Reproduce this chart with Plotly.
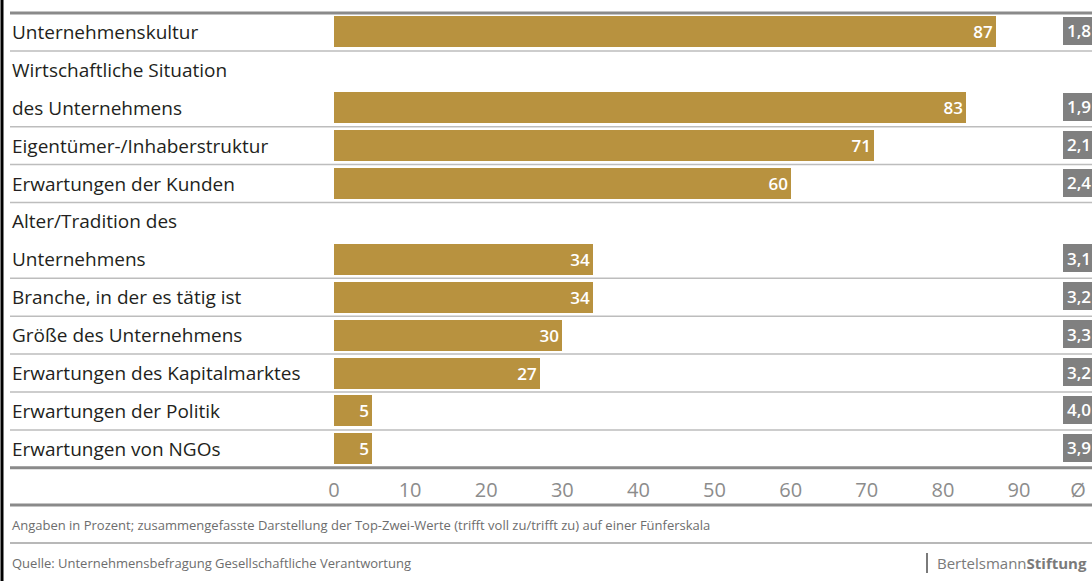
import plotly.graph_objects as go

# Survey items (label lines), share of top-two answers in percent, and mean score
labels = [
    ["Unternehmenskultur"],
    ["Wirtschaftliche Situation", "des Unternehmens"],
    ["Eigentümer-/Inhaberstruktur"],
    ["Erwartungen der Kunden"],
    ["Alter/Tradition des", "Unternehmens"],
    ["Branche, in der es tätig ist"],
    ["Größe des Unternehmens"],
    ["Erwartungen des Kapitalmarktes"],
    ["Erwartungen der Politik"],
    ["Erwartungen von NGOs"],
]
shares = [87, 83, 71, 60, 34, 34, 30, 27, 5, 5]
means = ["1,8", "1,9", "2,1", "2,4", "3,1", "3,2", "3,3", "3,2", "4,0", "3,9"]
tick_values = [0, 10, 20, 30, 40, 50, 60, 70, 80, 90]
tick_labels = [str(v) for v in tick_values]
footnote = ("Angaben in Prozent; zusammengefasste Darstellung der Top-Zwei-Werte "
            "(trifft voll zu/trifft zu) auf einer Fünferskala")
source = "Quelle: Unternehmensbefragung Gesellschaftliche Verantwortung"

W, H = 1092, 581
X0_PX, UNIT_PX = 334, 7.611           # pixel of value 0, pixels per percent
x_lo = -X0_PX / UNIT_PX
x_hi = (W - X0_PX) / UNIT_PX
MEAN_COL = (1063 - X0_PX) / UNIT_PX   # left edge of the mean column
AVG_TICK = (1078 - X0_PX) / UNIT_PX   # position of the Ø header

GOLD = "#B8923F"
GREY_BOX = "#808080"
TEXT = "#231f20"
FONT = "Open Sans"

TOP, LINE_H = 13, 37.9

# vertical layout of the rows (y axis runs in pixels, top to bottom)
row_bounds, bar_centers, line_centers = [TOP], [], []
y = TOP
for lab in labels:
    for i, _ in enumerate(lab):
        line_centers.append(y + LINE_H * (i + 0.5))
    y += LINE_H * len(lab)
    row_bounds.append(y)
    bar_centers.append(y - 19)

fig = go.Figure()
fig.add_trace(go.Bar(
    y=bar_centers, x=shares, base=0, orientation="h", width=31,
    marker=dict(color=GOLD, line=dict(width=0)),
    text=[str(v) for v in shares], textposition="inside", insidetextanchor="end",
    textfont=dict(family=FONT, size=17, color="white", weight=600),
    hoverinfo="skip", showlegend=False,
))
fig.add_trace(go.Bar(
    y=[c - 1 for c in bar_centers], x=[x_hi - MEAN_COL] * len(means), base=MEAN_COL,
    orientation="h", width=28,
    marker=dict(color=GREY_BOX, line=dict(width=0)),
    hoverinfo="skip", showlegend=False,
))

annotations = []
flat = [t for lab in labels for t in lab]
for txt, yc in zip(flat, line_centers):
    annotations.append(dict(x=10 / W, xref="paper", y=yc, yref="y", text=txt,
                            showarrow=False, xanchor="left", yanchor="middle",
                            font=dict(family=FONT, size=19, color=TEXT)))
for m, yc in zip(means, bar_centers):
    annotations.append(dict(x=MEAN_COL, xref="x", y=yc - 1, yref="y", text=m,
                            showarrow=False, xanchor="left", yanchor="middle", xshift=2,
                            font=dict(family=FONT, size=17, color="white", weight=600)))
annotations += [
    dict(x=10 / W, xref="paper", y=525, yref="y", text=footnote, showarrow=False,
         xanchor="left", yanchor="middle", font=dict(family=FONT, size=13, color="#6d6d6d")),
    dict(x=10 / W, xref="paper", y=563, yref="y", text=source, showarrow=False,
         xanchor="left", yanchor="middle", font=dict(family=FONT, size=13, color="#6d6d6d")),
    dict(x=935 / W, xref="paper", y=563, yref="y",
         text="Bertelsmann<b>Stiftung</b>", showarrow=False,
         xanchor="left", yanchor="middle",
         font=dict(family=FONT, size=15, color="#7a7a7a")),
]

shapes = [
    dict(type="line", xref="paper", yref="y", x0=2 / W, x1=2 / W, y0=0, y1=H,
         line=dict(color="black", width=3)),
    dict(type="line", xref="paper", yref="y", x0=927 / W, x1=927 / W, y0=553, y1=573,
         line=dict(color="#7a7a7a", width=2)),
]
for i, b in enumerate(row_bounds):
    thick = i in (0, len(row_bounds) - 1)
    shapes.append(dict(type="line", xref="paper", yref="y", x0=10 / W, x1=1,
                       y0=b, y1=b, layer="below",
                       line=dict(color="#8a8a8a" if thick else "#bdbdbd",
                                 width=3 if thick else 1.5)))
shapes += [
    dict(type="line", xref="paper", yref="y", x0=10 / W, x1=1, y0=505, y1=505,
         line=dict(color="#8a8a8a", width=3)),
    dict(type="line", xref="paper", yref="y", x0=10 / W, x1=1, y0=543, y1=543,
         line=dict(color="#a0a0a0", width=1.5)),
]

fig.update_layout(
    width=W, height=H, margin=dict(l=0, r=0, t=0, b=0),
    paper_bgcolor="white", plot_bgcolor="white",
    bargap=0, barmode="overlay",
    xaxis=dict(range=[x_lo, x_hi], showgrid=False, zeroline=False, showline=False,
               tickvals=tick_values + [AVG_TICK], ticktext=tick_labels + ["Ø"],
               ticks="", anchor="free", position=1 - 476 / H, side="bottom",
               tickfont=dict(family=FONT, size=20, color="#8c8c8c")),
    yaxis=dict(range=[H, 0], showgrid=False, zeroline=False, showline=False,
               showticklabels=False, fixedrange=True),
    annotations=annotations, shapes=shapes,
)

# keep the page free of scrollbars so the figure fills the window exactly
page_css = ("document.documentElement.style.overflow='hidden';"
            "document.body.style.margin='0';document.body.style.overflow='hidden';")

fig.write_html("out.html", config={"displayModeBar": False}, post_script=page_css)
